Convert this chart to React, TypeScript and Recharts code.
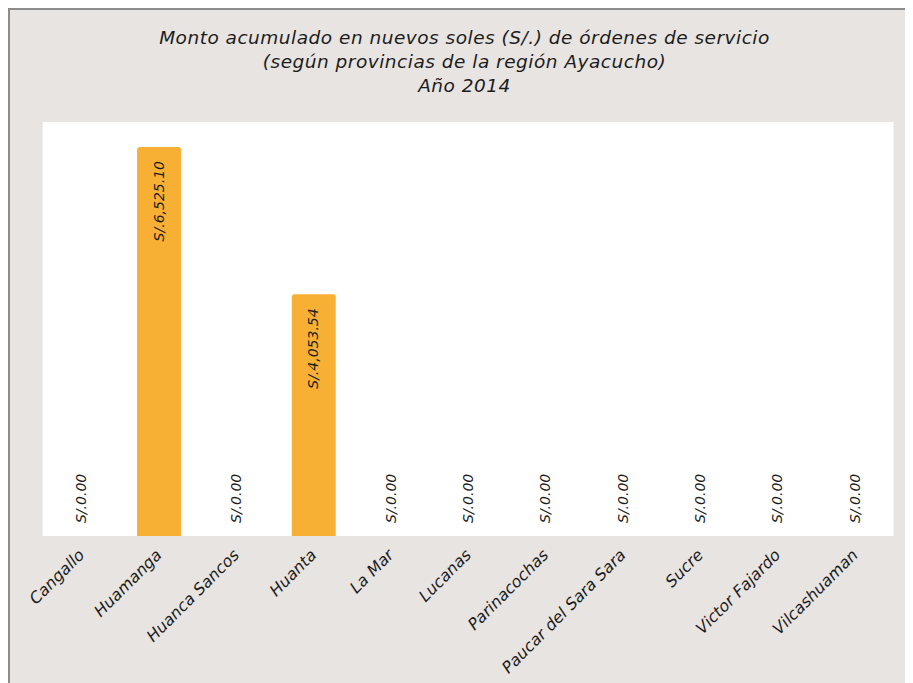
import React from "react";
import { ComposedChart, Bar, Line, XAxis, YAxis, CartesianGrid, LabelList } from "recharts";

const provinces = [
  "Cangallo",
  "Huamanga",
  "Huanca Sancos",
  "Huanta",
  "La Mar",
  "Lucanas",
  "Parinacochas",
  "Paucar del Sara Sara",
  "Sucre",
  "Victor Fajardo",
  "Vilcashuaman",
];
const amounts = [0, 6525.1, 0, 4053.54, 0, 0, 0, 0, 0, 0, 0];
const boundaryTicks = [0, 1, 2, 3, 4, 5, 6, 7, 8, 9, 10, 11];
const titleLines = [
  "Monto acumulado en nuevos soles (S/.) de órdenes de servicio",
  "(según provincias de la región Ayacucho)",
  "Año 2014",
];

const data = provinces.map((p, i) => ({ name: p, idx: i + 0.5, value: amounts[i] }));

const FONT = "'DejaVu Sans', sans-serif";
const TEXT = "#1c1c1c";
const AXIS = "#8c8c8c";

const fmt = (v: number) =>
  "S/." + v.toLocaleString("en-US", { minimumFractionDigits: 2, maximumFractionDigits: 2 });

const ValueLabel = (props: any) => {
  const { x, y, value } = props;
  const cx = Number(x) + 5;
  const py = Number(y);
  const positive = Number(value) > 0;
  const ay = positive ? py + 14 : py - 13;
  return (
    <text
      x={cx}
      y={ay}
      transform={`rotate(-90, ${cx}, ${ay})`}
      textAnchor={positive ? "end" : "start"}
      fontFamily={FONT}
      fontStyle="italic"
      fontSize={14}
      fill={TEXT}
    >
      {fmt(Number(value))}
    </text>
  );
};

const CatTick = (props: any) => {
  const { x, y, payload } = props;
  const ax = Number(x) + 4;
  const ay = Number(y) + 12;
  return (
    <text
      x={ax}
      y={ay}
      transform={`rotate(-45, ${ax}, ${ay})`}
      textAnchor="end"
      fontFamily={FONT}
      fontStyle="italic"
      fontSize={16}
      fill={TEXT}
    >
      {payload.value}
    </text>
  );
};

export default function App() {
  return (
    <div
      style={{
        position: "relative",
        width: 901,
        height: 673,
        background: "#E8E4E1",
        borderLeft: `2px solid ${AXIS}`,
        borderTop: `2px solid ${AXIS}`,
        borderRight: "2px solid #d6d2cf",
        overflow: "hidden",
      }}
    >
      <div
        style={{
          position: "absolute",
          top: 16,
          left: 4,
          width: 901,
          textAlign: "center",
          fontFamily: FONT,
          fontStyle: "italic",
          fontSize: 18.5,
          letterSpacing: 0.5,
          lineHeight: "24px",
          color: TEXT,
        }}
      >
        {titleLines.map((t) => (
          <div key={t}>{t}</div>
        ))}
      </div>
      <ComposedChart
        width={901}
        height={673}
        data={data}
        margin={{ top: 112, right: 17.5, left: 32.7, bottom: 0 }}
        barCategoryGap={0}
      >
        <CartesianGrid fill="#ffffff" horizontal={false} vertical={false} stroke="none" />
        <XAxis
          xAxisId="grid"
          type="number"
          dataKey="idx"
          domain={[0, 11]}
          ticks={boundaryTicks}
          interval={0}
          height={0}
          tick={false}
          tickSize={5}
          stroke={AXIS}
          axisLine={{ stroke: AXIS, strokeWidth: 2 }}
          tickLine={{ stroke: AXIS, strokeWidth: 2 }}
          allowDataOverflow
        />
        <XAxis
          xAxisId="cat"
          dataKey="name"
          interval={0}
          height={147}
          axisLine={false}
          tickLine={false}
          tick={<CatTick />}
        />
        <YAxis hide domain={[0, 6944]} />
        <Bar
          xAxisId="cat"
          dataKey="value"
          fill="#F7B034"
          barSize={44}
          radius={[3, 3, 0, 0]}
          isAnimationActive={false}
        />
        <Line
          xAxisId="cat"
          dataKey="value"
          stroke="none"
          dot={false}
          activeDot={false}
          legendType="none"
          isAnimationActive={false}
        >
          <LabelList dataKey="value" content={<ValueLabel />} />
        </Line>
      </ComposedChart>
    </div>
  );
}
